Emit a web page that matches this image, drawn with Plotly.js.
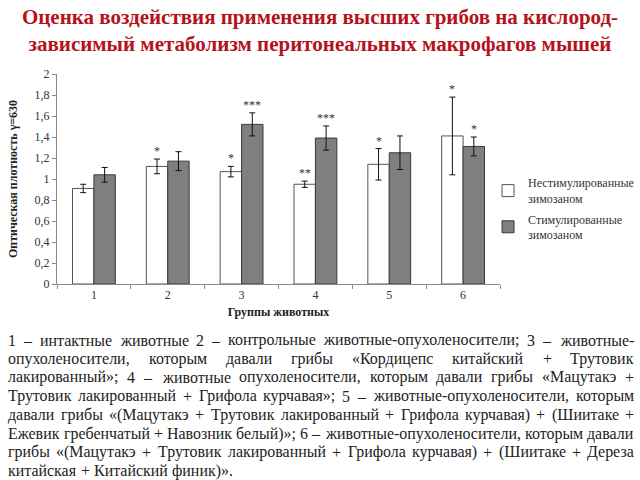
<!DOCTYPE html>
<html><head><meta charset="utf-8">
<script src="https://cdn.plot.ly/plotly-3.0.1.min.js"></script>
<style>body{margin:0;background:#fff}#chart{width:640px;height:480px}</style>
</head><body><div id="chart"></div>
<script>
// ---- data ----
const groups = ['1', '2', '3', '4', '5', '6'];
const unstim = [0.91, 1.12, 1.07, 0.95, 1.14, 1.41];
const unstimErr = [0.04, 0.07, 0.05, 0.03, 0.15, 0.37];
const unstimSig = ['', '*', '*', '**', '*', '*'];
const stim = [1.04, 1.17, 1.52, 1.39, 1.25, 1.31];
const stimErr = [0.07, 0.09, 0.11, 0.115, 0.16, 0.09];
const stimSig = ['', '', '***', '***', '', '*'];
const seriesNames = ['Нестимулированные<br>зимозаном', 'Стимулированные<br>зимозаном'];
const titleText = 'Оценка воздействия применения высших грибов на кислород-<br>зависимый метаболизм перитонеальных макрофагов мышей';
const yTitle = 'Оптическая плотность γ=630';
const xTitle = 'Группы животных';
const captionLines = [
  '1 – интактные животные 2 – контрольные животные-опухоленосители; 3 – животные-',
  'опухоленосители, которым давали грибы «Кордицепс китайский + Трутовик',
  'лакированный»; 4 – животные опухоленосители, которым давали грибы «Мацутакэ +',
  'Трутовик лакированный + Грифола курчавая»; 5 – животные-опухоленосители, которым',
  'давали грибы «(Мацутакэ + Трутовик лакированный + Грифола курчавая) + (Шиитаке +',
  'Ежевик гребенчатый + Навозник белый)»; 6 – животные-опухоленосители, которым давали',
  'грибы «(Мацутакэ + Трутовик лакированный + Грифола курчавая) + (Шиитаке + Дереза',
  'китайская + Китайский финик)».'
];

// ---- layout geometry ----
const W = 640, H = 480;
const M = {l: 57, r: 140, t: 74, b: 196, autoexpand: false};
const PW = W - M.l - M.r, PH = H - M.t - M.b;
const bargap = 0.42;
const barW = (1 - bargap) / 2 * PW / groups.length;
const serif = '"Liberation Serif", "Times New Roman", serif';

const traces = [
  {type: 'bar', x: groups, y: unstim, name: seriesNames[0], legendgroup: 'a',
   marker: {color: '#ffffff', line: {color: '#555555', width: 1}},
   error_y: {type: 'data', array: unstimErr, visible: true, color: '#111', thickness: 1, width: 3}},
  {type: 'bar', x: groups, y: stim, name: seriesNames[1], legendgroup: 'b',
   marker: {color: '#7f7f7f', line: {color: '#3a3a3a', width: 1}},
   error_y: {type: 'data', array: stimErr, visible: true, color: '#111', thickness: 1, width: 3}}
];

const anns = [];
function addStars(vals, errs, sig, shift) {
  groups.forEach((g, i) => {
    if (!sig[i]) return;
    anns.push({x: i, y: vals[i] + errs[i], xref: 'x', yref: 'y', text: sig[i], showarrow: false,
      xshift: shift, yshift: -1, yanchor: 'bottom', xanchor: 'center',
      font: {family: serif, size: 12, color: '#333'}});
  });
}
addStars(unstim, unstimErr, unstimSig, -barW / 2);
addStars(stim, stimErr, stimSig, barW / 2);

// caption words (positions are justified after measuring the rendered words)
const capLeft = 7, capRight = 633, capLastRight = 232, capY0 = 340, capStep = 18.7;
const baseSize = 16;
const capStart = anns.length;
const capWords = captionLines.map(l => l.split(' '));
capWords.forEach((words, i) => {
  words.forEach((w, j) => {
    anns.push({text: w, xref: 'paper', yref: 'paper', x: (capLeft + j * 5 - M.l) / PW,
      y: (M.t + PH - (capY0 + i * capStep)) / PH, xanchor: 'left', yanchor: 'middle',
      showarrow: false, borderpad: 0, font: {family: serif, size: baseSize, color: '#222'}});
  });
});

const layout = {
  width: W, height: H, margin: M, paper_bgcolor: '#fff', plot_bgcolor: '#fff',
  separators: ', ',
  title: {text: titleText, x: 0.5, xref: 'container', xanchor: 'center', y: 0.95, yref: 'container', yanchor: 'top',
    font: {family: serif, size: 21, weight: 'bold', color: '#b5121b'}},
  barmode: 'group', bargap: bargap, bargroupgap: 0,
  xaxis: {type: 'category', range: [-0.5, 5.5], showline: true, linecolor: '#8a8a8a', linewidth: 1, ticks: 'outside', tickson: 'boundaries',
    ticklen: 4, tickcolor: '#8a8a8a', showgrid: false, zeroline: false,
    tickfont: {family: serif, size: 12, color: '#333'},
    title: {text: xTitle, standoff: 6, font: {family: serif, size: 12, weight: 'bold', color: '#222'}}},
  yaxis: {range: [0, 2], dtick: 0.2, showline: true, linecolor: '#8a8a8a', linewidth: 1, ticks: 'outside', ticklen: 4,
    tickcolor: '#8a8a8a', showgrid: false, zeroline: false,
    tickfont: {family: serif, size: 12, color: '#333'},
    title: {text: yTitle, standoff: 14, font: {family: serif, size: 12, weight: 'bold', color: '#222'}}},
  legend: {x: 0.973, xanchor: 'left', y: 0.55, yanchor: 'top', tracegroupgap: 2, traceorder: 'grouped',
    font: {family: serif, size: 12, color: '#333'}, bgcolor: 'rgba(0,0,0,0)'},
  annotations: anns,
  showlegend: true
};

Plotly.newPlot('chart', traces, layout, {displayModeBar: false, staticPlot: true}).then(gd => {
  const width = idx => {
    const el = gd.querySelector('g.annotation[data-index="' + idx + '"] text.annotation-text');
    return el ? el.getBBox().width : 0;
  };
  let k = capStart;
  const widths = capWords.map(words => words.map(() => width(k++)));
  const spaceEm = 0.25;
  const lastW = widths[widths.length - 1];
  const lastTotal = lastW.reduce((a, b) => a + b, 0) + spaceEm * baseSize * (lastW.length - 1);
  const size = lastTotal > 0 ? Math.max(12, Math.min(18, baseSize * (capLastRight - capLeft) / lastTotal)) : 15;
  const sc = size / baseSize;
  const newAnns = anns.slice(0, capStart);
  let idx = capStart;
  capWords.forEach((words, i) => {
    const ws = widths[i].map(w => w * sc);
    const total = ws.reduce((a, b) => a + b, 0);
    const last = i === capWords.length - 1;
    const gap = last ? spaceEm * size : (capRight - capLeft - total) / (words.length - 1);
    let x = capLeft;
    words.forEach((w, j) => {
      newAnns.push(Object.assign({}, anns[idx++], {
        x: (x - M.l) / PW, font: {family: serif, size: size, color: '#222'}}));
      x += ws[j] + gap;
    });
  });
  return Plotly.relayout(gd, {annotations: newAnns});
});
</script>
</body></html>
